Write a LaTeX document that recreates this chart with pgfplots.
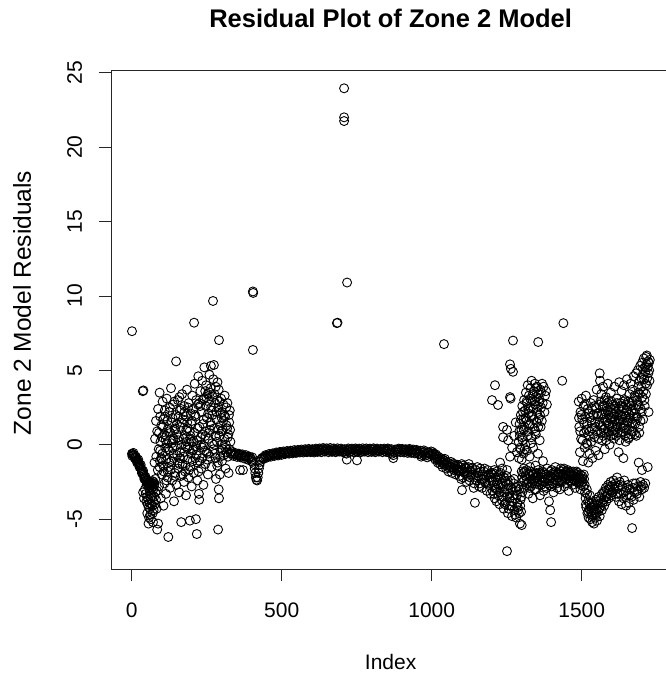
\documentclass[border=0pt]{standalone}
\usepackage{pgfplots}
\pgfplotsset{compat=1.18}
\usepackage{fontspec}
\setmainfont{Liberation Sans}
\newcommand\tl{\fontsize{21}{25}\selectfont}
\begin{document}
\begin{tikzpicture}
\begin{axis}[
  at={(0,0)}, anchor=south west,
  scale only axis, width=559.2pt, height=499pt,
  xmin=-69, xmax=1795, ymin=-8.35, ymax=25.18,
  xtick={0,500,1000,1500}, ytick={-5,0,5,10,15,20,25},
  xticklabels={,,}, yticklabels={,,},
  xtick pos=bottom, ytick pos=left, tick align=outside,
  major tick length=12pt,
  every tick/.style={black!85, line width=0.8pt},
  axis line style={black!85, line width=0.8pt},
  clip=false,
  title={Residual Plot of Zone 2 Model},
  every axis title/.style={at={(axis description cs:0.5,1.0842)}, anchor=base, font=\bfseries\fontsize{25.5}{30}\selectfont},
  xlabel={Index},
  xlabel style={at={(axis description cs:0.5,-0.2024)}, anchor=base, font=\tl},
  ylabel={Zone 2 Model Residuals},
  ylabel style={at={(axis description cs:-0.1431,0.533)}, anchor=base, font=\fontsize{24.5}{29}\selectfont},
]
\addplot[only marks, mark=o, mark size=4.5pt, mark options={line width=0.9pt, black}] table {
x y
1 7.63
37 3.6
39 3.65
1 -0.6
3 -0.62
5 -0.68
7 -0.7
9 -0.75
11 -0.82
13 -0.88
15 -0.95
17 -1.02
19 -1.08
21 -1.15
23 -1.25
25 -1.32
27 -1.42
29 -1.5
31 -1.6
33 -1.7
35 -1.8
37 -1.9
39 -2.0
41 -2.1
43 -2.2
45 -2.3
47 -2.4
49 -2.45
51 -2.55
53 -2.6
55 -2.65
57 -2.7
59 -2.65
61 -2.75
63 -2.6
65 -2.7
67 -2.55
69 -2.7
71 -2.6
73 -2.5
75 -2.65
2 -0.75
6 -0.55
10 -0.9
14 -0.8
18 -1.2
22 -1.0
26 -1.5
30 -1.35
34 -1.9
38 -1.75
42 -2.3
46 -2.15
50 -2.7
54 -2.4
58 -2.9
62 -2.5
66 -2.85
70 -2.45
74 -2.8
38 -3.2
41 -3.6
44 -3.0
47 -3.3
49 -3.8
51 -3.5
53 -4.0
55 -3.7
57 -4.2
59 -3.9
61 -4.3
63 -3.6
65 -4.0
67 -3.4
69 -4.1
71 -3.8
73 -4.4
75 -3.5
77 -4.0
79 -3.2
81 -3.7
83 -4.3
58 -4.9
60 -3.1
66 -2.95
72 -3.0
52 -4.6
62 -4.7
70 -4.6
85 -5.7
88 -5.3
56 -5.3
64 -5.0
71 -5.2
76 -1.2
78 0.4
79 -2.3
81 1.6
82 -0.8
84 -3.1
85 0.9
87 -1.7
88 2.4
90 -0.3
91 -2.8
93 3.5
94 -1.1
96 0.2
97 -3.6
99 1.3
100 -2.0
102 -0.6
103 2.9
105 -1.4
106 -4.1
108 0.7
109 -2.6
111 1.9
112 -0.2
114 -3.3
115 -1.0
117 3.1
118 0.1
120 -2.2
121 1.1
122 -6.2
123 -1.5
125 2.2
126 -0.4
128 -2.9
129 0.8
131 3.8
132 -1.1
134 1.5
135 -2.4
137 0.3
138 2.7
140 -0.9
141 -3.8
143 1.0
144 -1.9
146 2.0
147 -0.1
148 5.6
149 -2.7
151 1.4
152 -0.7
154 3.0
155 -1.6
157 0.5
158 -3.2
160 2.3
161 -0.5
163 1.2
164 -2.1
165 -5.2
166 0.0
168 3.4
169 -1.3
171 1.7
172 -0.8
174 -2.5
175 2.6
177 0.6
178 -1.8
180 1.9
181 -3.4
183 0.2
184 3.7
186 -1.0
187 1.1
189 -2.2
190 2.8
192 -0.3
193 0.9
194 -5.1
195 -1.5
197 2.1
198 -0.6
200 -2.8
201 1.6
202 3.3
204 -0.4
205 2.4
207 -1.9
208 8.2
209 0.8
210 4.1
212 -0.9
213 1.9
214 -5.0
215 3.0
217 -6.0
218 0.3
219 -2.4
221 2.7
222 4.6
224 -3.3
225 -3.7
226 1.2
227 -1.1
229 3.6
230 0.5
232 -1.6
233 2.2
235 4.3
236 -0.2
238 1.4
239 -2.7
241 3.1
242 5.2
244 0.9
245 -1.3
247 2.6
248 4.0
250 -0.5
251 1.8
253 3.4
254 -2.0
256 0.4
257 2.9
259 4.7
260 -0.8
262 1.5
263 3.8
264 5.3
266 -1.5
267 2.3
268 0.1
270 3.2
271 9.66
272 4.4
274 5.36
275 1.1
277 -0.6
278 2.8
280 3.9
281 -2.3
283 1.7
284 0.2
286 4.2
287 -1.2
288 -5.7
289 2.5
290 -3.0
291 7.03
291 -3.6
292 0.6
293 2.9
294 -2.0
295 1.3
297 -0.4
298 3.1
299 0.9
301 -1.1
302 2.2
303 -0.3
305 1.6
306 2.7
307 -0.7
309 0.4
310 3.3
311 1.9
313 -1.6
314 0.0
315 2.5
317 -0.5
318 1.1
319 2.8
321 -0.8
322 0.7
323 -1.9
325 1.5
326 -0.3
327 2.3
329 0.2
330 -0.6
91 0.8
93 -1.5
95 1.9
98 -0.9
101 0.5
104 1.2
107 -1.8
110 2.3
113 0.3
116 -2.4
119 1.6
122 -0.3
124 0.9
127 2.5
130 -1.7
133 0.1
136 1.8
139 -0.6
142 2.9
145 -2.1
150 0.7
153 -1.2
156 1.9
159 3.2
162 -0.9
167 1.5
170 -2.0
173 0.4
176 2.2
179 -1.4
182 1.0
185 -0.2
188 2.5
191 -1.7
196 0.6
199 1.4
203 -1.1
206 0.2
211 2.0
216 -0.7
220 1.1
223 -1.8
228 2.6
231 0.0
234 -0.9
237 3.0
240 1.7
243 -0.4
246 0.6
249 3.2
252 -1.0
255 2.1
258 0.8
261 3.5
265 1.3
269 2.0
273 -0.3
276 3.4
279 0.6
282 2.2
285 -1.4
288 1.0
290 3.7
296 2.1
300 0.0
304 1.0
308 2.0
312 -0.2
316 1.3
320 0.5
324 2.0
328 1.0
95 -0.4
115 0.6
135 -0.2
155 0.3
175 -0.5
195 0.4
215 -0.1
235 0.7
255 -0.6
275 0.0
295 -0.8
105 1.7
125 -1.2
145 1.1
165 2.4
185 1.5
205 -0.3
225 2.8
245 3.6
265 2.5
285 3.0
100 -1.0
120 -1.8
140 0.4
160 -1.3
180 -0.1
200 0.2
220 -1.2
240 -0.1
260 1.0
280 -0.9
300 1.8
404 10.3
405 10.2
404 6.37
684 8.17
686 8.2
718 10.9
708 23.95
708 22.0
708 21.75
330 -0.55
336 -0.6
342 -0.62
348 -0.65
354 -0.7
360 -0.68
361 -1.7
366 -0.72
371 -1.7
372 -0.78
378 -0.8
384 -0.82
390 -0.88
396 -0.9
400 -1.0
404 -1.15
407 -1.3
410 -1.6
412 -1.9
414 -2.2
416 -2.35
418 -2.4
420 -2.2
422 -1.9
424 -1.6
426 -1.35
428 -1.15
431 -1.0
434 -0.9
438 -0.85
443 -0.8
448 -0.78
453 -0.72
458 -0.75
463 -0.68
468 -0.7
473 -0.62
478 -0.66
483 -0.6
488 -0.64
493 -0.55
498 -0.6
503 -0.52
508 -0.58
513 -0.5
518 -0.55
523 -0.48
528 -0.56
533 -0.45
538 -0.52
543 -0.47
548 -0.42
553 -0.5
558 -0.44
563 -0.4
568 -0.48
573 -0.42
578 -0.38
583 -0.46
588 -0.4
593 -0.35
598 -0.44
603 -0.38
608 -0.42
613 -0.36
618 -0.45
623 -0.33
628 -0.4
633 -0.37
638 -0.3
643 -0.42
648 -0.35
653 -0.32
658 -0.4
663 -0.36
668 -0.3
673 -0.38
678 -0.34
683 -0.42
688 -0.36
693 -0.3
698 -0.4
703 -0.35
708 -0.45
713 -0.55
717 -1.0
718 -0.4
723 -0.36
728 -0.32
733 -0.42
738 -0.35
743 -0.3
748 -0.4
751 -1.05
753 -0.34
758 -0.38
763 -0.32
768 -0.42
773 -0.36
778 -0.3
783 -0.38
788 -0.34
793 -0.4
798 -0.32
803 -0.36
808 -0.3
813 -0.4
818 -0.34
823 -0.38
828 -0.42
833 -0.36
838 -0.32
843 -0.4
848 -0.35
853 -0.3
858 -0.38
863 -0.45
868 -0.6
872 -0.9
876 -0.5
880 -0.36
885 -0.32
890 -0.4
895 -0.3
900 -0.36
905 -0.42
910 -0.34
915 -0.38
920 -0.45
925 -0.36
930 -0.4
935 -0.48
940 -0.42
945 -0.38
950 -0.5
955 -0.44
960 -0.62
965 -0.8
970 -0.55
975 -0.48
980 -0.6
985 -0.85
990 -0.55
995 -0.65
1000 -0.6
333 -0.45
339 -0.75
345 -0.55
351 -0.82
357 -0.6
363 -0.85
369 -0.65
375 -0.92
381 -0.7
387 -1.0
393 -0.8
399 -1.1
402 -0.85
440 -0.95
446 -0.7
452 -0.85
458 -0.62
464 -0.8
470 -0.58
476 -0.75
482 -0.52
488 -0.72
494 -0.48
500 -0.68
506 -0.45
512 -0.62
518 -0.42
524 -0.6
530 -0.4
536 -0.58
542 -0.36
548 -0.55
554 -0.35
560 -0.52
566 -0.32
572 -0.52
578 -0.3
584 -0.5
590 -0.28
596 -0.5
602 -0.3
608 -0.52
614 -0.26
620 -0.48
626 -0.25
632 -0.5
638 -0.22
644 -0.46
650 -0.24
656 -0.5
662 -0.22
668 -0.48
674 -0.25
680 -0.5
686 -0.24
692 -0.46
698 -0.26
704 -0.5
710 -0.3
716 -0.6
722 -0.25
728 -0.48
734 -0.26
740 -0.5
746 -0.25
752 -0.48
758 -0.26
764 -0.5
770 -0.24
776 -0.46
782 -0.25
788 -0.5
794 -0.26
800 -0.48
806 -0.24
812 -0.5
818 -0.26
824 -0.46
830 -0.28
836 -0.5
842 -0.26
848 -0.48
854 -0.25
860 -0.55
866 -0.3
872 -0.7
878 -0.32
884 -0.5
890 -0.26
896 -0.5
902 -0.28
908 -0.52
914 -0.3
920 -0.55
926 -0.28
932 -0.55
938 -0.32
944 -0.58
950 -0.35
956 -0.62
962 -0.4
968 -0.7
974 -0.38
980 -0.72
986 -0.5
992 -0.75
998 -0.45
1005 -0.7
1010 -0.85
1014 -0.65
1018 -0.95
1022 -0.8
1026 -1.1
1030 -0.9
1034 -1.2
1038 -1.0
1041 6.76
1042 -1.35
1046 -1.1
1050 -1.4
1054 -1.2
1058 -1.55
1062 -1.3
1066 -1.5
1070 -1.25
1074 -1.7
1078 -1.4
1082 -1.6
1086 -1.35
1090 -1.8
1094 -1.5
1098 -2.3
1101 -3.05
1102 -1.65
1106 -1.4
1110 -1.9
1114 -1.6
1118 -2.1
1122 -1.5
1126 -2.4
1130 -1.75
1134 -1.55
1138 -2.0
1142 -2.6
1144 -3.9
1146 -1.7
1150 -2.2
1154 -1.9
1158 -2.8
1162 -1.6
1166 -2.3
1170 -2.0
1174 -1.8
1178 -2.5
1182 -2.1
1186 -1.7
1190 -2.7
1194 -2.2
1198 -1.9
1003 -0.5
1008 -0.6
1012 -1.0
1016 -0.75
1020 -1.2
1024 -0.95
1028 -1.3
1032 -1.05
1036 -1.5
1040 -1.2
1044 -0.95
1048 -1.6
1052 -1.3
1056 -1.8
1060 -1.45
1064 -1.15
1068 -1.9
1072 -1.55
1076 -1.3
1080 -2.0
1084 -1.7
1088 -1.45
1092 -2.1
1096 -1.75
1100 -1.3
1104 -2.2
1108 -1.8
1112 -1.5
1116 -2.5
1120 -1.85
1124 -1.3
1128 -2.2
1132 -2.0
1136 -1.6
1140 -2.9
1148 -2.4
1152 -1.5
1156 -2.1
1160 -2.6
1164 -1.8
1168 -2.9
1172 -2.3
1176 -1.6
1180 -2.6
1184 -3.1
1188 -2.0
1192 -2.4
1196 -3.3
1200 -2.4
1203 -3.1
1205 -1.9
1208 -2.7
1210 -3.6
1212 -2.2
1215 -3.0
1217 -1.8
1219 -2.6
1222 -3.4
1224 -2.0
1226 -4.0
1228 -2.9
1231 -2.3
1233 -3.7
1235 -1.6
1238 -2.8
1240 -4.3
1242 -3.2
1245 -2.5
1247 -3.9
1249 -2.1
1251 -7.15
1252 -3.5
1254 -4.6
1256 -2.7
1259 -3.3
1261 -4.1
1263 -2.4
1266 -3.8
1268 -4.8
1270 -3.0
1273 -2.6
1275 -4.4
1277 -3.6
1280 -2.9
1282 -4.9
1284 -3.4
1287 -4.2
1289 -2.8
1291 -4.6
1294 -5.3
1296 -3.7
1298 -4.5
1300 -5.4
1302 -3.2
1201 -2.0
1204 -2.5
1207 -3.3
1209 -1.7
1213 -2.9
1216 -3.8
1220 -2.2
1223 -2.7
1227 -3.2
1230 -1.9
1234 -2.6
1237 -3.5
1241 -2.2
1244 -4.0
1248 -3.0
1253 -2.4
1257 -4.3
1260 -3.6
1264 -2.9
1267 -4.1
1271 -3.4
1274 -2.3
1278 -4.7
1281 -3.1
1285 -3.9
1288 -4.4
1292 -3.0
1295 -4.1
1299 -3.5
1201 3.0
1211 4.0
1221 2.67
1228 -1.2
1238 1.2
1238 0.5
1251 -1.7
1251 1.0
1255 0.3
1261 3.2
1263 3.1
1261 5.4
1264 5.1
1271 4.9
1268 -0.2
1261 -0.8
1271 7.0
1275 0.6
1280 1.5
1284 -0.5
1290 0.2
1291 -0.9
1293 1.4
1294 0.6
1296 -0.3
1297 2.0
1299 1.0
1300 -1.0
1302 2.6
1303 0.3
1305 1.7
1306 -0.6
1308 3.0
1309 1.2
1311 2.3
1312 0.0
1314 3.5
1315 1.6
1317 -0.4
1318 2.8
1320 4.0
1321 0.9
1323 2.1
1324 3.3
1326 -0.8
1327 1.4
1329 3.8
1330 2.5
1332 0.5
1333 4.3
1335 1.9
1336 3.0
1338 -0.2
1339 2.4
1341 3.6
1342 1.1
1344 4.1
1345 2.7
1347 0.7
1348 3.2
1350 1.5
1351 3.9
1353 2.2
1354 -0.6
1356 3.4
1357 1.8
1359 2.9
1360 0.3
1362 3.7
1363 1.2
1365 2.5
1368 4.1
1371 -1.1
1378 3.3
1384 2.7
1355 6.9
1435 4.3
1439 8.17
1292 0.9
1295 -0.2
1298 1.7
1301 0.5
1304 2.2
1307 1.0
1310 -0.3
1313 1.8
1316 2.9
1319 0.6
1322 2.4
1325 1.3
1328 3.1
1331 0.1
1334 2.0
1337 3.4
1340 1.7
1343 2.9
1346 0.9
1349 3.8
1352 2.6
1355 1.2
1358 3.1
1361 2.0
1364 3.5
1367 1.6
1370 2.8
1373 3.9
1376 2.2
1381 3.6
1300 -1.8
1304 -2.5
1307 -1.6
1310 -2.9
1313 -2.1
1316 -1.7
1319 -2.6
1322 -3.3
1325 -2.0
1328 -1.5
1331 -2.8
1334 -2.3
1337 -3.6
1340 -1.9
1343 -2.6
1346 -1.4
1349 -3.0
1352 -2.2
1355 -1.7
1358 -2.7
1361 -3.4
1364 -2.0
1367 -2.4
1370 -1.8
1373 -3.1
1376 -2.5
1379 -2.0
1382 -2.9
1385 -1.6
1388 -2.3
1391 -3.8
1393 -2.7
1395 -4.4
1397 -2.1
1398 -5.2
1400 -1.7
1403 -2.6
1406 -3.2
1409 -2.0
1412 -1.5
1415 -2.4
1418 -2.9
1421 -1.9
1424 -2.2
1427 -3.0
1430 -1.6
1433 -2.5
1436 -2.1
1439 -1.7
1442 -2.8
1445 -2.3
1448 -1.8
1451 -2.6
1454 -2.0
1457 -3.1
1460 -1.9
1463 -2.4
1466 -2.1
1469 -2.7
1472 -1.8
1475 -2.3
1478 -2.9
1481 -2.0
1484 -2.5
1487 -1.9
1490 -2.6
1493 -2.2
1496 -3.0
1499 -2.4
1502 -2.1
1505 -2.8
1508 -2.3
1511 -3.2
1302 -2.2
1305 -1.9
1308 -2.4
1311 -1.8
1314 -2.7
1317 -2.3
1320 -1.9
1323 -2.5
1326 -2.9
1329 -2.1
1332 -1.8
1335 -2.6
1338 -2.0
1341 -2.4
1344 -3.0
1347 -2.2
1350 -1.9
1353 -2.5
1356 -2.1
1359 -2.3
1362 -1.9
1365 -2.7
1368 -2.2
1371 -2.5
1374 -1.9
1377 -2.8
1380 -2.3
1383 -2.0
1386 -2.6
1389 -2.1
1392 -2.4
1396 -1.8
1399 -2.8
1402 -2.2
1405 -1.9
1408 -2.5
1411 -2.1
1414 -1.8
1417 -2.6
1420 -2.2
1423 -1.9
1426 -2.5
1429 -2.0
1432 -1.8
1435 -2.4
1438 -2.0
1441 -1.6
1444 -2.2
1447 -1.9
1450 -2.3
1453 -1.7
1456 -2.4
1459 -2.1
1462 -1.8
1465 -2.5
1468 -2.0
1471 -2.3
1474 -1.9
1477 -2.4
1480 -2.2
1483 -1.8
1486 -2.3
1489 -2.1
1492 -2.5
1495 -2.0
1498 -2.7
1501 -2.3
1504 -2.5
1507 -2.0
1510 -2.7
1513 -3.6
1515 -4.2
1517 -3.0
1519 -4.6
1521 -3.8
1523 -4.9
1525 -4.3
1527 -3.4
1529 -5.0
1531 -4.5
1533 -3.9
1535 -5.2
1537 -4.7
1539 -4.1
1541 -5.3
1543 -4.4
1545 -4.9
1547 -3.7
1549 -4.6
1551 -5.1
1553 -4.0
1555 -4.5
1557 -3.5
1560 -4.8
1562 -4.2
1565 -3.6
1567 -4.4
1570 -3.9
1572 -3.2
1575 -4.1
1577 -3.5
1580 -2.9
1582 -3.8
1585 -3.3
1588 -2.7
1590 -3.6
1593 -3.0
1596 -2.5
1598 -3.4
1601 -2.8
1604 -3.2
1606 -2.4
1609 -3.0
1612 -2.6
1615 -3.5
1618 -2.2
1621 -2.9
1624 -3.8
1627 -2.5
1630 -3.3
1633 -4.0
1636 -2.8
1639 -3.6
1642 -2.4
1645 -3.1
1648 -4.1
1651 -3.4
1654 -2.7
1657 -3.9
1660 -3.0
1663 -4.4
1666 -3.5
1668 -5.6
1670 -2.9
1673 -3.7
1676 -3.2
1680 -2.6
1684 -3.3
1688 -2.8
1692 -3.5
1696 -2.5
1700 -3.0
1704 -2.7
1708 -2.9
1514 -4.0
1518 -3.3
1522 -4.5
1526 -3.9
1530 -4.2
1534 -4.8
1538 -4.4
1542 -4.0
1546 -4.7
1550 -4.3
1554 -3.8
1558 -4.3
1563 -3.9
1568 -3.3
1573 -3.7
1578 -3.1
1583 -3.5
1589 -3.0
1594 -2.8
1600 -3.2
1610 -2.8
1620 -3.3
1630 -2.7
1640 -3.2
1650 -2.9
1660 -3.4
1672 -2.6
1686 -3.1
1698 -2.8
1712 -2.6
1490 2.9
1492 1.2
1494 -0.5
1496 2.2
1498 0.4
1500 3.1
1502 1.7
1504 -1.1
1506 2.6
1508 0.8
1510 -0.2
1512 1.9
1514 3.3
1516 0.1
1518 1.4
1520 2.4
1522 -1.2
1524 0.6
1526 -0.6
1528 1.8
1530 2.8
1532 0.2
1534 1.1
1536 -0.9
1538 2.0
1540 3.0
1542 0.5
1544 1.5
1546 -0.4
1548 2.5
1550 3.7
1552 0.9
1554 1.9
1556 -0.7
1558 2.7
1560 4.8
1561 4.3
1563 1.3
1565 3.4
1567 0.3
1569 2.1
1571 3.9
1573 1.0
1575 2.6
1577 -0.3
1579 1.6
1581 3.2
1583 0.7
1585 2.3
1587 4.1
1589 1.4
1591 2.9
1593 0.0
1595 1.8
1597 3.5
1599 2.2
1601 0.9
1603 1.5
1605 2.7
1607 0.4
1609 3.9
1611 1.7
1613 2.4
1615 0.6
1617 3.1
1619 1.2
1621 2.0
1623 -0.5
1625 4.2
1627 1.6
1629 2.8
1631 0.8
1633 3.6
1635 1.9
1637 2.5
1639 -0.9
1641 4.0
1643 1.1
1645 3.0
1647 0.2
1649 2.3
1651 4.4
1653 1.5
1655 2.9
1657 0.5
1659 3.4
1661 1.8
1663 4.1
1665 2.6
1667 0.9
1669 3.7
1671 1.4
1673 4.6
1675 2.1
1677 0.7
1679 3.2
1681 4.8
1683 1.9
1685 2.7
1687 5.0
1689 3.5
1691 1.2
1693 4.3
1695 5.3
1697 2.4
1699 3.9
1701 5.5
1703 4.7
1705 1.7
1707 5.8
1709 3.0
1711 5.2
1713 4.1
1715 5.9
1717 6.0
1719 4.5
1721 5.6
1723 2.2
1725 5.0
1727 5.7
1690 -1.2
1701 -1.7
1720 -1.5
1491 1.8
1495 0.9
1499 2.0
1503 0.3
1507 1.5
1511 2.7
1515 1.0
1519 0.0
1523 2.1
1527 0.9
1531 1.6
1535 2.4
1539 0.7
1543 2.6
1547 1.2
1551 2.1
1555 0.4
1559 1.5
1562 2.9
1564 0.8
1566 2.0
1568 1.2
1570 2.6
1572 0.6
1574 1.8
1576 3.0
1578 1.1
1580 2.2
1582 0.3
1584 1.5
1586 2.8
1588 0.9
1590 2.0
1592 1.3
1594 2.5
1596 0.6
1598 1.7
1600 2.9
1602 1.2
1604 2.1
1606 0.7
1608 1.9
1610 2.6
1612 1.0
1614 2.2
1616 1.4
1618 2.8
1620 0.8
1622 1.6
1624 2.4
1626 0.3
1628 2.0
1630 1.2
1632 2.6
1634 0.9
1636 1.7
1638 2.9
1640 1.3
1642 2.1
1644 0.6
1646 1.9
1648 2.7
1650 1.0
1652 2.3
1654 1.6
1656 0.4
1658 2.0
1660 2.8
1662 1.2
1664 0.7
1666 2.2
1668 1.5
1670 2.9
1672 0.9
1674 1.8
1676 3.3
1678 1.4
1680 2.4
1682 0.6
1684 3.0
1686 1.8
1688 3.9
1690 2.6
1692 0.8
1694 3.4
1696 1.6
1698 4.5
1700 2.2
1702 3.2
1704 5.1
1706 3.6
1708 4.4
1710 2.6
1712 4.9
1714 3.4
1716 5.4
1718 4.0
1720 5.2
1722 4.8
1724 5.5
1726 4.3
};
\node[anchor=base, font=\tl] at ([yshift=-48pt]axis cs:0,-8.35) {0};
\node[anchor=base, font=\tl] at ([yshift=-48pt]axis cs:500,-8.35) {500};
\node[anchor=base, font=\tl] at ([yshift=-48pt]axis cs:1000,-8.35) {1000};
\node[anchor=base, font=\tl] at ([yshift=-48pt]axis cs:1500,-8.35) {1500};
\node[anchor=base, rotate=90, font=\tl] at ([xshift=-29pt]axis cs:-69,-5) {-5};
\node[anchor=base, rotate=90, font=\tl] at ([xshift=-29pt]axis cs:-69,0) {0};
\node[anchor=base, rotate=90, font=\tl] at ([xshift=-29pt]axis cs:-69,5) {5};
\node[anchor=base, rotate=90, font=\tl] at ([xshift=-29pt]axis cs:-69,10) {10};
\node[anchor=base, rotate=90, font=\tl] at ([xshift=-29pt]axis cs:-69,15) {15};
\node[anchor=base, rotate=90, font=\tl] at ([xshift=-29pt]axis cs:-69,20) {20};
\node[anchor=base, rotate=90, font=\tl] at ([xshift=-29pt]axis cs:-69,25) {25};
\end{axis}
\pgfresetboundingbox
\path[use as bounding box] (-111pt,-106pt) rectangle (555pt,569pt);
\end{tikzpicture}
\end{document}
